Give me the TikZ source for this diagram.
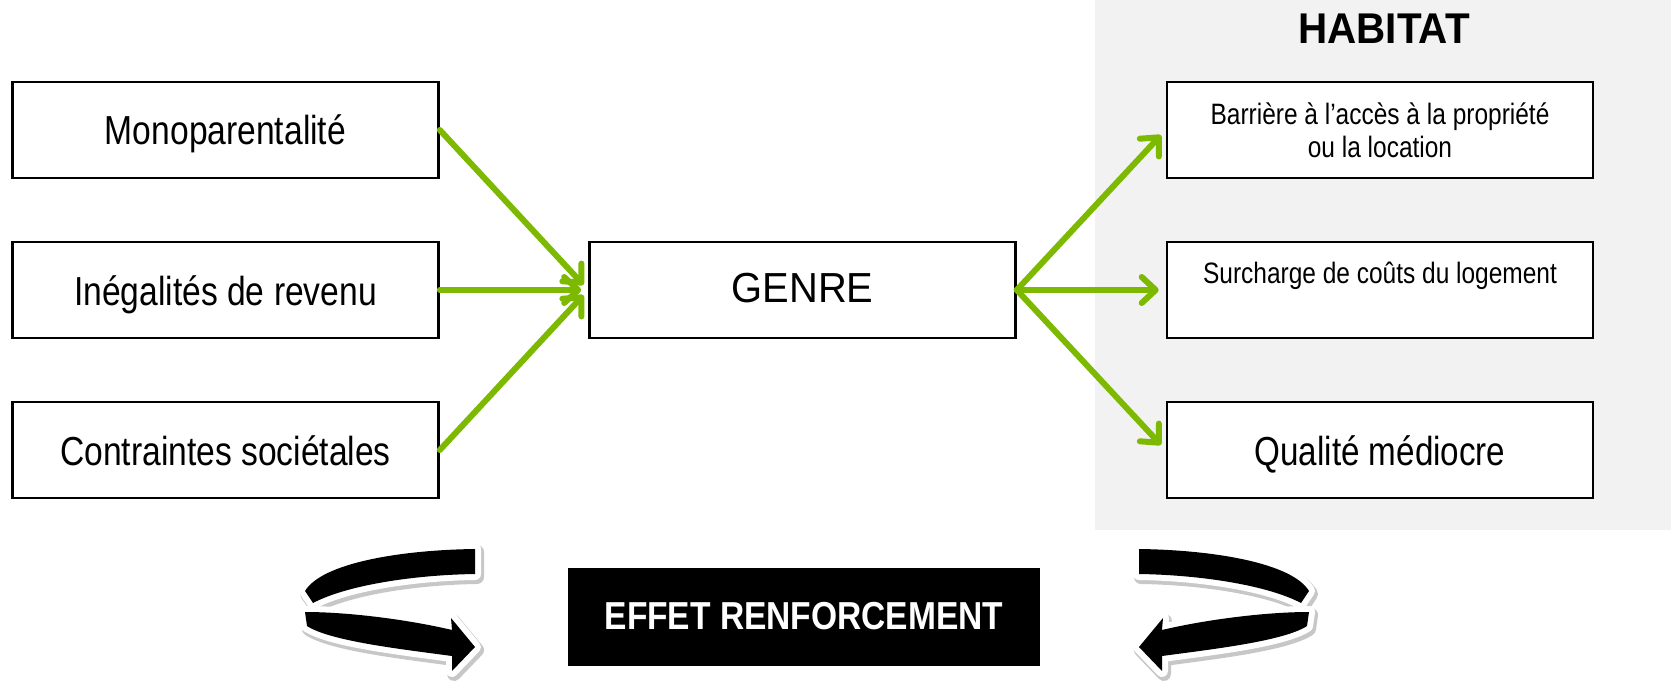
\documentclass[tikz,border=0pt]{standalone}
\usepackage{fontspec}
\setmainfont{Liberation Sans}
\usepackage{graphicx}
\usetikzlibrary{arrows.meta}
\definecolor{arrowgreen}{RGB}{125,185,0}
\definecolor{panelgray}{RGB}{242,242,242}
\newcommand{\narrow}[2]{\scalebox{#1}[1]{#2}}

\begin{document}
\begin{tikzpicture}[x=0.5pt,y=-0.5pt,>={Straight Barb[length=7pt,width=13pt,round]}]
\tikzstyle{box}=[draw=black,line width=1.3pt,fill=white,minimum width=213pt,minimum height=48pt,inner sep=0pt]
\tikzstyle{bigtext}=[font=\fontsize{20.25}{24}\selectfont,text height=15pt,text depth=0pt]
\tikzstyle{smalltext}=[font=\fontsize{14.75}{16.5}\selectfont]
\tikzstyle{every edge}=[draw=arrowgreen,line width=3pt,->,shorten >=3.5pt,line cap=round]
\useasboundingbox (0,0) rectangle (1671,690);
\fill[panelgray] (1095,0) rectangle (1671,530);
\node[font=\fontsize{21.5}{24}\selectfont\bfseries] (habitat) at (1384,29) {\narrow{0.94}{HABITAT}};
% causes
\node[box,bigtext] (mono) at (225.5,130) {\narrow{0.83}{Monoparentalité}};
\node[box,bigtext] (ineg) at (225.5,290) {\narrow{0.83}{Inégalités de revenu}};
\node[box,bigtext] (contr) at (225.5,450) {\narrow{0.83}{Contraintes sociétales}};
\node[box,font=\fontsize{21}{24}\selectfont,text height=12pt,text depth=0pt] (genre) at (802.5,290) {\narrow{0.95}{GENRE}};
% habitat
\node[box,smalltext,align=center] (acces) at (1380,130) {\narrow{0.83}{Barrière à l’accès à la propriété}\\\narrow{0.83}{ou la location}};
\node[box,smalltext,text height=11pt,text depth=18pt] (cout) at (1380,290) {\narrow{0.83}{Surcharge de coûts du logement}};
\node[box,bigtext] (qualite) at (1380,450) {\narrow{0.82}{Qualité médiocre}};
\path (mono.east) edge (genre.west)
      (ineg.east) edge (genre.west)
      (contr.east) edge (genre.west);
\path (genre.east) edge (acces.west)
                   edge (cout.west)
                   edge (qualite.west);
% effet renforcement
\node[fill=black,text=white,minimum width=236pt,minimum height=49pt,font=\fontsize{19.5}{24}\selectfont\bfseries] (effet) at (804,616.5) {\narrow{0.86}{EFFET RENFORCEMENT}};
\foreach \s/\dx in {1/0,-1/1614}{
  \begin{scope}[shift={(\dx,0)},xscale=\s]
    \path[fill=black,
          preaction={draw=black!22,line width=7pt,line join=round,transform canvas={shift={(1pt,-1.5pt)}}},
          preaction={draw=white,line width=6pt,line join=round}]
      (475,549) .. controls (400,550) and (322,563) .. (305,591) -- (313,603)
        .. controls (345,586) and (410,575) .. (475,574) -- cycle
      (305,612) .. controls (350,612) and (410,620) .. (452,630) -- (451,618) -- (475,647)
        -- (452,671) -- (452,656) .. controls (400,649) and (330,641) .. (307,626) -- cycle;
  \end{scope}
}
\end{tikzpicture}
\end{document}
